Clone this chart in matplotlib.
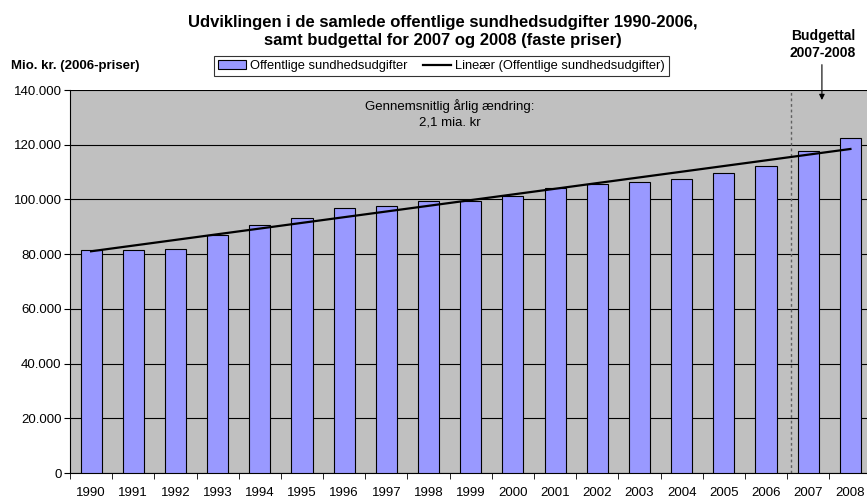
import matplotlib.pyplot as plt
import numpy as np

years = ['1990', '1991', '1992', '1993', '1994', '1995', '1996', '1997', '1998', '1999',
         '2000', '2001', '2002', '2003', '2004', '2005', '2006', '2007', '2008']
udgifter = [81450, 81600, 81900, 86900, 90500, 93300, 96700, 97600, 99300, 99600,
            101100, 104100, 105600, 106200, 107400, 109600, 112200, 117600, 122600]
yticks = [0, 20000, 40000, 60000, 80000, 100000, 120000, 140000]
ytick_labels = ['0', '20.000', '40.000', '60.000', '80.000', '100.000', '120.000', '140.000']

plt.rcParams['font.family'] = ['Liberation Sans', 'DejaVu Sans']

fig = plt.figure(figsize=(8.67, 4.99), dpi=100)
# plot area runs a bit past the right edge, like the original
ax = fig.add_axes([0.0807, 0.0521, 0.9245, 0.7675])
ax.set_facecolor('#C0C0C0')

x = np.arange(len(years))
bars = ax.bar(x, udgifter, width=0.5, color='#9999FF', edgecolor='black', linewidth=0.8,
              zorder=3, label='Offentlige sundhedsudgifter')

# linear trend like Excel's trendline
k, m = np.polyfit(x, udgifter, 1)
trend, = ax.plot(x, k * x + m, color='black', linewidth=1.6, zorder=4,
                 label='Lineær (Offentlige sundhedsudgifter)')

ax.set_xlim(-0.5, len(years) - 0.5)
ax.set_ylim(0, 140000)
ax.set_yticks(yticks)
ax.set_yticklabels(ytick_labels, fontsize=9.5)
ax.yaxis.grid(True, color='black', linewidth=0.8, zorder=1)
ax.set_axisbelow(True)

ax.set_xticks(x)
ax.set_xticklabels(years, fontsize=9.5)
ax.set_xticks(np.arange(-0.5, len(years)), minor=True)
ax.tick_params(axis='x', which='major', length=0, pad=10)
ax.tick_params(axis='x', which='minor', length=4, direction='out')
ax.tick_params(axis='y', length=4, direction='out', pad=2)

for s in ['top', 'right']:
    ax.spines[s].set_visible(False)
ax.spines['left'].set_color('black')
ax.spines['bottom'].set_color('black')

# budget separator
ax.axvline(16.58, color='#606060', linestyle=(0, (2, 2)), linewidth=1, zorder=2)

ax.text(8.5, 136800, 'Gennemsnitlig årlig ændring:\n2,1 mia. kr', ha='center', va='top',
        fontsize=9.5, linespacing=1.45)

fig.text(0.511, 0.937, 'Udviklingen i de samlede offentlige sundhedsudgifter 1990-2006,\n'
         'samt budgettal for 2007 og 2008 (faste priser)',
         ha='center', va='center', fontsize=12, fontweight='bold', linespacing=1.3)
fig.text(0.013, 0.868, 'Mio. kr. (2006-priser)', ha='left', va='center', fontsize=9.5,
         fontweight='bold')
fig.text(0.949, 0.911, 'Budgettal\n2007-2008', ha='center', va='center', fontsize=10,
         fontweight='bold', linespacing=1.3)
ax.annotate('', xy=(0.948, 0.794), xycoords='figure fraction',
            xytext=(0.948, 0.876), textcoords='figure fraction',
            arrowprops=dict(arrowstyle='-|>', color='black', lw=0.8, mutation_scale=8))

leg = fig.legend([bars, trend], [bars.get_label(), trend.get_label()],
                 loc='center', bbox_to_anchor=(0.509, 0.867), ncol=2, fontsize=9.3,
                 frameon=True, fancybox=False, edgecolor='black', handlelength=2.2,
                 handleheight=0.7, columnspacing=1.2, borderpad=0.3, handletextpad=0.3)
leg.get_frame().set_linewidth(0.8)

fig.savefig('out.png', dpi=100, facecolor='white')
